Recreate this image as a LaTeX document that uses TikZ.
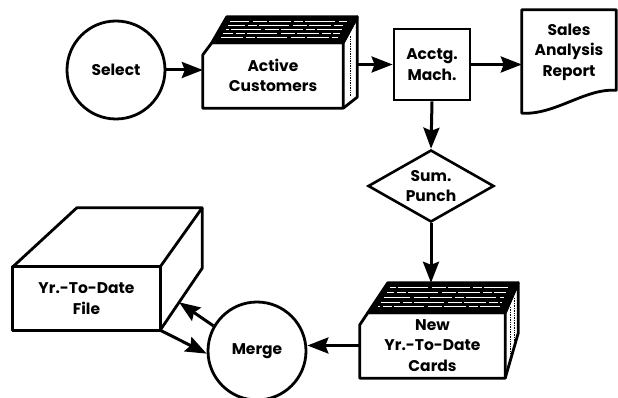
\documentclass[tikz,border=0pt]{standalone}
\usepackage{fontspec}
\setmainfont{Poppins}
\usetikzlibrary{shapes.geometric, arrows.meta, positioning, calc}

\begin{document}
\begin{tikzpicture}[x=1pt, y=-1pt, every node/.style={font=\bfseries\fontsize{15.5}{20.5}\selectfont}]
  \tikzset{
    proc/.style={circle, draw, line width=2.8pt, minimum size=98pt, align=center},
    face/.style={rectangle, inner sep=0pt, align=center},
    outline/.style={line width=2.8pt, line join=round},
    mach/.style={rectangle, draw, line width=2.8pt, minimum width=76pt, minimum height=71pt, align=center},
    doc/.style={rectangle, minimum width=94pt, minimum height=84pt, align=center},
    punch/.style={diamond, draw, line width=2.6pt, minimum width=126pt, minimum height=72pt, aspect=1.75, inner sep=0pt, align=center},
    line/.style={-{Stealth[length=21pt, width=16pt, inset=3pt]}, line width=3pt},
    streak/.style={white, line width=0.9pt, dash pattern=on 22pt off 3pt on 9pt off 2pt on 30pt off 4pt on 14pt off 2pt},
    edges/.style={densely dotted, line width=0.7pt}
  }
  \useasboundingbox (0,0) rectangle (618,398);

  \node[proc] (select) at (116,70) {Select};
  \node[face, minimum width=140pt, minimum height=65pt] (active) at (273,75.5) {Active\\Customers};
  \node[mach] (acctg) at (432,64.5) {Acctg.\\Mach.};
  \node[doc] (report) at (569,52) {Sales\\Analysis\\Report};
  \node[punch] (sumpunch) at (431,186) {Sum.\\Punch};
  \node[face, minimum width=145pt, minimum height=65pt] (newcards) at (432.5,345.5) {New\\Yr.-To-Date\\Cards};
  \node[proc] (merge) at (257,351) {Merge};
  \node[face, minimum width=147pt, minimum height=63pt] (ytdfile) at (86.5,298.5) {Yr.-To-Date\\File};

  % active customers deck
  \coordinate (a-cl) at ($(active.north west)+(0,12)$);
  \coordinate (a-cr) at ($(active.north west)+(9,0)$);
  \coordinate (a-bl) at ($(active.north west)+(24,-26)$);
  \coordinate (a-br) at ($(active.north east)+(14,-26)$);
  \coordinate (a-bb) at ($(active.south east)+(14,-11)$);
  \filldraw[outline] (a-cr) -- (a-bl) -- (a-br) -- (active.north east) -- cycle;
  \draw[streak] ($(a-cr)!0.2!(a-bl)+(6,0)$) -- ($(active.north east)!0.2!(a-br)+(-8,0)$);
  \draw[streak, dash phase=12pt] ($(a-cr)!0.36!(a-bl)+(6,0)$) -- ($(active.north east)!0.36!(a-br)+(-8,0)$);
  \draw[streak, dash phase=31pt] ($(a-cr)!0.52!(a-bl)+(6,0)$) -- ($(active.north east)!0.52!(a-br)+(-8,0)$);
  \draw[streak, dash phase=5pt] ($(a-cr)!0.68!(a-bl)+(6,0)$) -- ($(active.north east)!0.68!(a-br)+(-8,0)$);
  \draw[streak, dash phase=47pt] ($(a-cr)!0.83!(a-bl)+(6,0)$) -- ($(active.north east)!0.83!(a-br)+(-8,0)$);
  \draw[outline] (active.north east) -- (a-br) -- (a-bb) -- (active.south east);
  \draw[edges] ($(active.north east)!0.5!(a-br)+(0,6)$) -- ($(active.south east)!0.5!(a-bb)+(0,-6)$);
  \draw[outline] (active.south west) -- (a-cl) -- (a-cr) -- (active.north east) -- (active.south east) -- cycle;

  % report sheet
  \draw[outline] ($(report.south west)+(0,19)$) -- (report.north west) -- (report.north east)
    -- ($(report.south east)+(0,-4)$) .. controls ($(report.south)+(16,-6)$) and ($(report.south)+(-14,21)$) .. ($(report.south west)+(0,19)$) -- cycle;

  % new cards deck
  \coordinate (n-cl) at ($(newcards.north west)+(0,12)$);
  \coordinate (n-cr) at ($(newcards.north west)+(8,0)$);
  \coordinate (n-bl) at ($(newcards.north west)+(28,-30)$);
  \coordinate (n-br) at ($(newcards.north east)+(13,-30)$);
  \coordinate (n-bb) at ($(newcards.south east)+(13,-45)$);
  \filldraw[outline] (n-cr) -- (n-bl) -- (n-br) -- (newcards.north east) -- cycle;
  \draw[streak, dash phase=20pt] ($(n-cr)!0.2!(n-bl)+(6,0)$) -- ($(newcards.north east)!0.2!(n-br)+(-8,0)$);
  \draw[streak, dash phase=3pt] ($(n-cr)!0.36!(n-bl)+(6,0)$) -- ($(newcards.north east)!0.36!(n-br)+(-8,0)$);
  \draw[streak, dash phase=40pt] ($(n-cr)!0.52!(n-bl)+(6,0)$) -- ($(newcards.north east)!0.52!(n-br)+(-8,0)$);
  \draw[streak, dash phase=15pt] ($(n-cr)!0.68!(n-bl)+(6,0)$) -- ($(newcards.north east)!0.68!(n-br)+(-8,0)$);
  \draw[streak, dash phase=28pt] ($(n-cr)!0.83!(n-bl)+(6,0)$) -- ($(newcards.north east)!0.83!(n-br)+(-8,0)$);
  \draw[outline] (newcards.north east) -- (n-br) -- (n-bb) -- (newcards.south east);
  \draw[edges] ($(newcards.north east)!0.4!(n-br)+(0,6)$) -- ($(newcards.south east)!0.4!(n-bb)+(0,-6)$)
    ($(newcards.north east)!0.7!(n-br)+(0,6)$) -- ($(newcards.south east)!0.7!(n-bb)+(0,-6)$);
  \draw[outline] (newcards.south west) -- (n-cl) -- (n-cr) -- (newcards.north east) -- (newcards.south east) -- cycle;

  % year-to-date file
  \coordinate (f-bl) at ($(ytdfile.north west)+(64,-59)$);
  \coordinate (f-br) at ($(ytdfile.north east)+(42,-59)$);
  \coordinate (f-bb) at ($(ytdfile.south east)+(42,-62)$);
  \coordinate (f-tip) at ($(ytdfile.south east)!0.45!(f-bb)$);
  \draw[outline] (ytdfile.south west) rectangle (ytdfile.north east);
  \draw[outline] (ytdfile.north west) -- (f-bl) -- (f-br) -- (ytdfile.north east);
  \draw[outline] (f-br) -- (f-bb) -- (ytdfile.south east);

  \draw[line] (select) -- (select.east -| active.west);
  \draw[line] (acctg.west -| a-br) -- (acctg.west);
  \draw[line] (acctg.east) -- (acctg.east -| report.west);
  \draw[line] (acctg.south) -- (sumpunch.north);
  \draw[line] (sumpunch.south) -- (sumpunch.south |- n-bl);
  \draw[line] (newcards.west) -- (newcards.west -| merge.east);
  \draw[line] (merge.150) -- (f-tip);
  \draw[line] (ytdfile.south east) -- (merge.183);
\end{tikzpicture}
\end{document}
